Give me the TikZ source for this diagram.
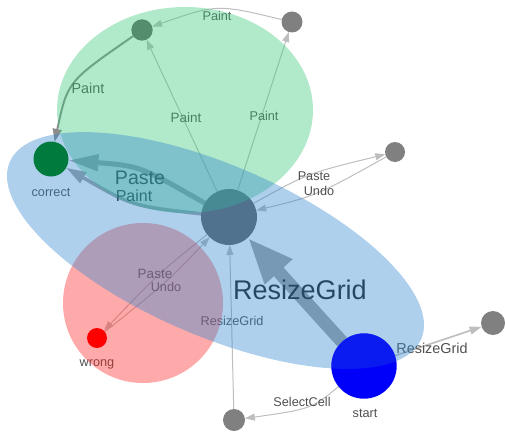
\documentclass[tikz,border=0pt]{standalone}
\usepackage{fontspec}
\setmainfont{Liberation Sans}
\usetikzlibrary{arrows.meta}
\definecolor{edgegray}{RGB}{190,190,190}
\definecolor{thickgray}{RGB}{165,165,165}
\definecolor{medgray}{RGB}{140,140,140}
\definecolor{nodegray}{RGB}{128,128,128}
\definecolor{hubgray}{RGB}{100,100,100}
\definecolor{greenov}{RGB}{60,200,125}
\definecolor{blueov}{RGB}{52,137,207}
\definecolor{pinkov}{RGB}{255,42,42}
\definecolor{correctgreen}{RGB}{0,122,61}
\definecolor{startblue}{RGB}{0,0,250}
\definecolor{lblgray}{RGB}{80,80,80}
\definecolor{biglbl}{RGB}{30,30,30}
\pgfdeclarelayer{edgelayer}
\pgfdeclarelayer{ovl}
\pgfdeclarelayer{toplayer}
\pgfsetlayers{edgelayer,main,ovl,toplayer}
\begin{document}
\begin{tikzpicture}[x=1pt,y=-1pt,
  vnode/.style={circle,inner sep=0pt,outer sep=0pt,minimum size=#1},
  lbl/.style={text=lblgray,inner sep=0pt,font=\fontsize{12.7}{14}\selectfont},
  lblm/.style={text=lblgray,inner sep=0pt,font=\fontsize{14.4}{16}\selectfont},
  lblbig/.style={text=biglbl,inner sep=0pt,font=\fontsize{#1}{#1}\selectfont},
  thinedge/.style={draw=edgegray,line width=1pt,-{Triangle[length=10pt,width=7pt]}},
  rightedge/.style={draw=edgegray,line width=1.6pt,-{Triangle[length=12pt,width=8pt]}},
  mededge/.style={draw=medgray,line width=2pt,-{Triangle[length=13pt,width=9pt]}},
  thickA/.style={draw=thickgray,line width=5pt,-{Triangle[length=30pt,width=16pt]}},
  thickB/.style={draw=thickgray,line width=3.5pt,-{Triangle[length=20pt,width=12pt]}},
  hugeedge/.style={draw=thickgray,line width=13pt,-{Triangle[length=46pt,width=34pt]}}
]
\useasboundingbox (0,0) rectangle (505,433);

% nodes under the cluster shading
\node[vnode=21.4pt,fill=hubgray] (P) at (142,30) {};
\node[vnode=21pt,fill=nodegray] (T) at (292,22) {};
\node[vnode=56pt,fill=hubgray] (hub) at (229,217) {};
\node[vnode=20pt,fill=nodegray] (R1) at (395,152) {};
\node[vnode=24pt,fill=nodegray] (RG) at (493,323) {};
\node[vnode=22pt,fill=nodegray] (SC) at (234,420) {};

% nodes above the cluster shading
\begin{pgfonlayer}{toplayer}
\node[vnode=35pt,fill=correctgreen] (correct) at (51,159) {};
\node[vnode=20pt,fill=red] (wrong) at (97,338) {};
\node[vnode=65.4pt,fill=startblue] (start) at (364,366) {};
\begin{scope}
  \clip[shift={(215.5,250.5)},rotate=-23.3] (0,0) ellipse[x radius=224pt,y radius=85.5pt];
  \fill[blueov,opacity=0.2] (start.center) circle (32.7pt);
\end{scope}
\end{pgfonlayer}

% node names
\node[lbl] (lcorrect) at (51,192) {correct};
\node[lbl] (lwrong) at (97,364) {wrong};
\node[lbl] (lstart) at (365,413) {start};

% edges
\begin{pgfonlayer}{edgelayer}
\draw[thinedge] (T) .. controls (217,4) .. (P);
\draw[mededge] (P) .. controls (67.5,81.5) .. (correct);
\draw[thinedge] (hub) -- (P);
\draw[thinedge] (hub) -- (T);
\draw[thickA] (hub) .. controls (140,166) .. (correct);
\draw[thickB] (hub) .. controls (132,206) .. (correct);
\draw[thinedge] (hub) .. controls (307.6,173.3) .. (R1);
\draw[thinedge] (R1) .. controls (316.4,195.7) .. (hub);
\draw[thinedge] (hub) .. controls (159,273) .. (wrong);
\draw[thinedge] (wrong) .. controls (167,282) .. (hub);
\draw[hugeedge] (start) -- (hub);
\draw[thinedge] (SC) -- (hub);
\draw[rightedge] (start) -- (RG);
\draw[thinedge] (start) .. controls (311,409) .. (SC);
\end{pgfonlayer}

% edge labels
\node[lbl] (e1) at (217,16) {Paint};
\node[lblm] (e2) at (88,88) {Paint};
\node[lbl,font=\fontsize{13.5}{15}\selectfont] (e3) at (186,118) {Paint};
\node[lbl] (e4) at (264,116) {Paint};
\node[lblbig=19.6] (e5) at (140,178) {Paste};
\node[lblbig=16] (e6) at (134,196) {Paint};
\node[lbl] (e7) at (314,176) {Paste};
\node[lbl] (e8) at (319,191) {Undo};
\node[lbl,font=\fontsize{13.5}{15}\selectfont] (e9) at (155,274) {Paste};
\node[lbl] (e10) at (166,287) {Undo};
\node[lblbig=27] (e11) at (300,290) {ResizeGrid};
\node[lbl] (e12) at (232,321) {ResizeGrid};
\node[lblm] (e13) at (432,348) {ResizeGrid};
\node[lbl] (e14) at (302,402) {SelectCell};

% cluster shading
\begin{pgfonlayer}{ovl}
\fill[greenov,opacity=0.4] (185,110) ellipse[x radius=128pt,y radius=103pt];
\fill[pinkov,opacity=0.4] (143,303) circle (80pt);
\fill[blueov,opacity=0.4,shift={(215.5,250.5)},rotate=-23.3] (0,0) ellipse[x radius=224pt,y radius=85.5pt];
\end{pgfonlayer}
\end{tikzpicture}
\end{document}
